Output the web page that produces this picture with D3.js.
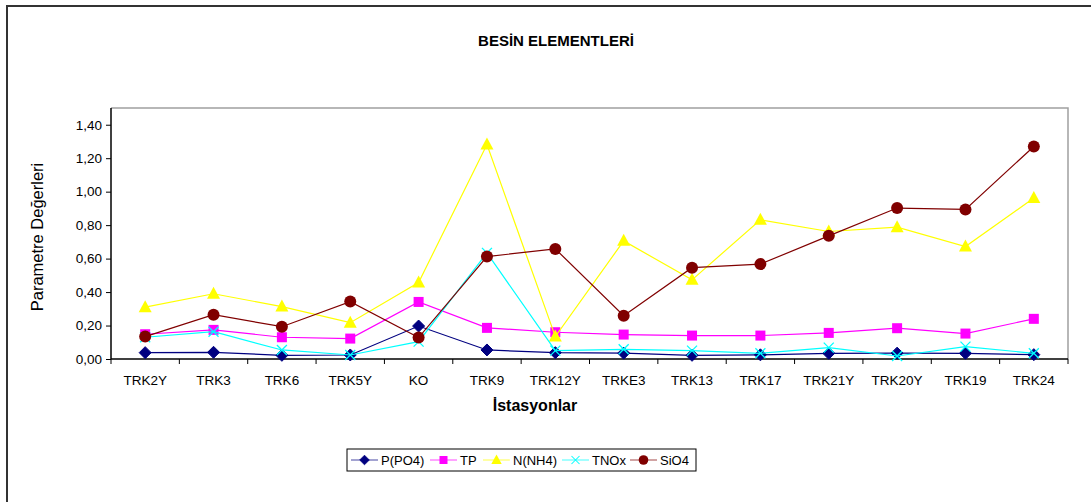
<!DOCTYPE html>
<html>
<head>
<meta charset="utf-8">
<script src="https://cdn.jsdelivr.net/npm/d3@7"></script>
<style>
  body { margin: 0; background: #fff; }
  svg { font-family: "Liberation Sans", Arial, sans-serif; display: block; }
</style>
</head>
<body>
<svg id="chart"></svg>
<script>
// stations and values
const stations = ["TRK2Y", "TRK3", "TRK6", "TRK5Y", "KO", "TRK9", "TRK12Y", "TRKE3", "TRK13", "TRK17", "TRK21Y", "TRK20Y", "TRK19", "TRK24"]
const pPO4 = [0.038, 0.040, 0.022, 0.024, 0.197, 0.054, 0.038, 0.035, 0.022, 0.025, 0.034, 0.035, 0.034, 0.026]
const tp = [0.148, 0.174, 0.130, 0.122, 0.341, 0.186, 0.160, 0.146, 0.140, 0.140, 0.156, 0.184, 0.152, 0.240]
const nNH4 = [0.310, 0.390, 0.313, 0.217, 0.457, 1.282, 0.134, 0.706, 0.473, 0.832, 0.762, 0.788, 0.672, 0.962]
const tnox = [0.130, 0.163, 0.054, 0.024, 0.104, 0.634, 0.050, 0.058, 0.050, 0.034, 0.068, 0.018, 0.074, 0.034]
const sio4 = [0.134, 0.265, 0.193, 0.343, 0.128, 0.612, 0.658, 0.259, 0.546, 0.567, 0.736, 0.902, 0.894, 1.270]
const yTicks = [0, 0.2, 0.4, 0.6, 0.8, 1.0, 1.2, 1.4]

const seriesList = [
    {name: "P(PO4)", values: pPO4, color: "#000080", marker: "diamond"},
    {name: "TP", values: tp, color: "#FF00FF", marker: "square"},
    {name: "N(NH4)", values: nNH4, color: "#FFFF00", marker: "triangle"},
    {name: "TNOx", values: tnox, color: "#00FFFF", marker: "x"},
    {name: "SiO4", values: sio4, color: "#800000", marker: "circle"}
]

const w = 1091
const h = 502
const plotLeft = 111
const plotRight = 1068
const plotTop = 108
const plotBottom = 359

const svg = d3.select("#chart")
    .attr("width", w)
    .attr("height", h)

// outer chart frame (only top and left visible in the picture)
svg.append("rect")
    .attr("x", 7)
    .attr("y", 6)
    .attr("width", 1200)
    .attr("height", 600)
    .attr("fill", "none")
    .attr("stroke", "#333")
    .attr("stroke-width", 2)

// title
svg.append("text")
    .attr("x", 556)
    .attr("y", 46)
    .attr("text-anchor", "middle")
    .attr("font-size", 15)
    .attr("font-weight", "bold")
    .text("BESİN ELEMENTLERİ")

// scales
const xScale = d3.scaleBand()
    .domain(stations)
    .range([plotLeft, plotRight])

const yScale = d3.scaleLinear()
    .domain([0, 1.5])
    .range([plotBottom, plotTop])

// plot area border (gray top/right)
svg.append("path")
    .attr("d", `M${plotLeft},${plotTop}H${plotRight}V${plotBottom}`)
    .attr("fill", "none")
    .attr("stroke", "#a0a0a0")
    .attr("stroke-width", 1.5)

// y axis
const leftAxis = d3.axisLeft(yScale)
    .tickValues(yTicks)
    .tickSize(5)
    .tickPadding(4)
    .tickFormat(d => d3.format(".2f")(d).replace(".", ","))

const yAxisG = svg.append("g")
    .attr("transform", `translate(${plotLeft}, 0)`)
    .call(leftAxis)
yAxisG.select(".domain").attr("d", `M0,${plotTop}V${plotBottom}`).attr("stroke-width", 1.5)
yAxisG.selectAll("text").attr("font-size", 13.5).attr("fill", "#000").attr("font-family", "Liberation Sans, Arial, sans-serif")

// x axis: ticks between the categories
const xAxisG = svg.append("g")
    .attr("transform", `translate(0, ${plotBottom})`)

xAxisG.append("line")
    .attr("x1", plotLeft)
    .attr("x2", plotRight)
    .attr("stroke", "#000")
    .attr("stroke-width", 1.5)

xAxisG.selectAll(".sep")
    .data(stations.concat(["end"]))
    .enter()
    .append("line")
    .attr("x1", (d, i) => i < stations.length ? xScale(d) : plotRight)
    .attr("x2", (d, i) => i < stations.length ? xScale(d) : plotRight)
    .attr("y1", 0)
    .attr("y2", 5)
    .attr("stroke", "#000")

xAxisG.selectAll(".lbl")
    .data(stations)
    .enter()
    .append("text")
    .attr("x", d => xScale(d) + xScale.bandwidth() / 2)
    .attr("y", 26)
    .attr("text-anchor", "middle")
    .attr("font-size", 13.5)
    .text(d => d)

// axis titles
svg.append("text")
    .attr("x", 535)
    .attr("y", 411)
    .attr("text-anchor", "middle")
    .attr("font-size", 16)
    .attr("font-weight", "bold")
    .text("İstasyonlar")

svg.append("text")
    .attr("transform", `translate(43, 237) rotate(-90)`)
    .attr("text-anchor", "middle")
    .attr("font-size", 16.5)
    .text("Parametre Değerleri")

// markers
function drawMarker(g, type, color) {
    if (type === "diamond") {
        g.append("path").attr("d", "M0,-6L6,0L0,6L-6,0Z").attr("fill", color).attr("stroke", color)
    } else if (type === "square") {
        g.append("rect").attr("x", -5).attr("y", -5).attr("width", 10).attr("height", 10).attr("fill", color)
    } else if (type === "triangle") {
        g.append("path").attr("d", "M0,-7L6.5,5L-6.5,5Z").attr("fill", color)
    } else if (type === "x") {
        g.append("path").attr("d", "M-5,-5L5,5M-5,5L5,-5").attr("stroke", color).attr("stroke-width", 1.3)
    } else {
        g.append("circle").attr("r", 6).attr("fill", color)
    }
}

const cx = i => xScale(stations[i]) + xScale.bandwidth() / 2

const line = d3.line()
    .x((d, i) => cx(i))
    .y(d => yScale(d))

seriesList.forEach(s => {
    const g = svg.append("g")
    g.append("path")
        .attr("d", line(s.values))
        .attr("fill", "none")
        .attr("stroke", s.color)
        .attr("stroke-width", 1.2)
    s.values.forEach((v, i) => {
        const m = g.append("g").attr("transform", `translate(${cx(i)}, ${yScale(v)})`)
        drawMarker(m, s.marker, s.color)
    })
})

// legend
const legend = svg.append("g").attr("id", "legend")
legend.append("rect")
    .attr("x", 347)
    .attr("y", 449)
    .attr("width", 349)
    .attr("height", 22)
    .attr("fill", "#fff")
    .attr("stroke", "#000")

const legendX = [351, 430, 483, 562, 630]
seriesList.forEach((s, i) => {
    const g = legend.append("g").attr("transform", `translate(${legendX[i]}, 460)`)
    g.append("line")
        .attr("x1", 0)
        .attr("x2", 27)
        .attr("stroke", s.color)
        .attr("stroke-opacity", 0.6)
        .attr("stroke-width", 1.2)
    const m = g.append("g")
    drawMarker(m, s.marker, s.color)
    m.attr("transform", "translate(13.5, 0) scale(0.8)")
    g.append("text")
        .attr("x", 30)
        .attr("y", 5)
        .attr("font-size", 13)
        .text(s.name)
})
</script>
</body>
</html>
